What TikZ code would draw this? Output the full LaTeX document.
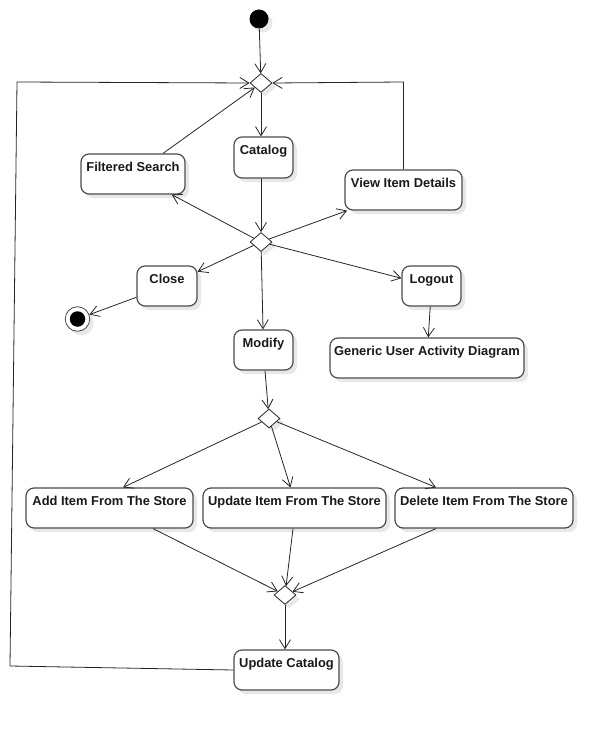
\documentclass[tikz,border=0pt]{standalone}
\usepackage{fontspec}
\setmainfont{Liberation Sans}
\usetikzlibrary{arrows.meta,shapes.geometric,shadows}
\tikzset{
  shad/.style={drop shadow={shadow xshift=4pt,shadow yshift=-4pt,fill=black!9,opacity=1}},
  actbox/.style={draw=black!70,line width=1.2pt,rounded corners=8pt,fill=white,shad,inner sep=0pt},
  dec/.style={diamond,draw=black!85,line width=0.8pt,fill=white,minimum width=22pt,minimum height=19pt,inner sep=0pt,shad},
  lbl/.style={anchor=base,inner sep=0pt,font=\fontsize{12.9}{14}\selectfont\bfseries,text=black!90},
  flow/.style={draw=black!85,line width=0.8pt,-{Straight Barb[length=9pt,width=11pt,line width=0.8pt]}},
  plain/.style={draw=black!85,line width=0.8pt}
}
\begin{document}
\begin{tikzpicture}[x=1pt,y=-1pt]
\useasboundingbox (0,0) rectangle (613,730);
% start / end
\node[circle,fill=black,minimum size=19pt,inner sep=0pt,shad] (start) at (259,19) {};
\node[circle,draw=black!70,line width=0.8pt,fill=white,minimum size=24.5pt,inner sep=0pt,shad] (final) at (77.5,319) {};
\node[circle,fill=black,minimum size=15.5pt,inner sep=0pt] (finaldot) at (final) {};
% decisions
\node[dec] (d1) at (261,83) {};
\node[dec] (d2) at (261,242) {};
\node[dec] (d3) at (269,418.5) {};
\node[dec] (d4) at (285,595) {};
% activities
\node[actbox,minimum width=59pt,minimum height=41pt] (catalog) at (263.5,157.5) {};
\node[actbox,minimum width=104pt,minimum height=40pt] (fs) at (133,174) {};
\node[actbox,minimum width=117pt,minimum height=40pt] (vid) at (403.5,190) {};
\node[actbox,minimum width=60pt,minimum height=40pt] (close) at (167,286) {};
\node[actbox,minimum width=59pt,minimum height=40pt] (logout) at (431.5,286) {};
\node[actbox,minimum width=59pt,minimum height=40pt] (modify) at (263.5,350) {};
\node[actbox,minimum width=194pt,minimum height=40pt] (generic) at (427,358) {};
\node[actbox,minimum width=167pt,minimum height=40pt] (add) at (109.5,508) {};
\node[actbox,minimum width=183pt,minimum height=40pt] (upd) at (294.5,508) {};
\node[actbox,minimum width=178pt,minimum height=40pt] (del) at (484,508) {};
\node[actbox,minimum width=105pt,minimum height=40pt] (uc) at (286.5,670) {};
% labels
\node[lbl] (catalog-t) at ([yshift=-18.5pt]catalog.north) {Catalog};
\node[lbl] (fs-t) at ([yshift=-18.5pt]fs.north) {Filtered Search};
\node[lbl] (vid-t) at ([yshift=-18.5pt]vid.north) {View Item Details};
\node[lbl] (close-t) at ([yshift=-18.5pt]close.north) {Close};
\node[lbl] (logout-t) at ([yshift=-18.5pt]logout.north) {Logout};
\node[lbl] (modify-t) at ([yshift=-18.5pt]modify.north) {Modify};
\node[lbl] (generic-t) at ([yshift=-18.5pt]generic.north) {Generic User Activity Diagram};
\node[lbl] (add-t) at ([yshift=-18.5pt]add.north) {Add Item From The Store};
\node[lbl] (upd-t) at ([yshift=-18.5pt]upd.north) {Update Item From The Store};
\node[lbl] (del-t) at ([yshift=-18.5pt]del.north) {Delete Item From The Store};
\node[lbl] (uc-t) at ([yshift=-18.5pt]uc.north) {Update Catalog};
% loop corners
\coordinate (lb) at (10,666);
\coordinate (lt) at (17,82);
\coordinate (rt) at (403.5,82);
% connectors
\draw[flow] (start) -- (d1);
\draw[flow] (d1.south) -- (d1.south |- catalog.north);
\draw[flow] (d2 |- catalog.south) -- (d2.north);
\draw[flow] ([xshift=30pt]fs.north) -- (d1);
\draw[flow] (vid.north) -- (rt) -- (d1.east);
\draw[flow] (uc.west) -- (lb) -- (lt) -- (d1.west);
\draw[flow] (d2) -- (fs);
\draw[flow] (d2) -- (vid);
\draw[flow] (d2) -- (close);
\draw[flow] (d2) -- (logout);
\draw[flow] (d2) -- (modify);
\draw[flow] (close) -- (final);
\draw[flow] (logout) -- (generic);
\draw[flow] ([xshift=1.5pt]modify.south) -- (d3);
\draw[flow] (d3) -- ([xshift=13.5pt]add.north);
\draw[flow] (d3) -- ([xshift=-4pt]upd.north);
\draw[flow] (d3) -- ([xshift=-48pt]del.north);
\draw[flow] ([xshift=43.5pt]add.south) -- (d4);
\draw[flow] ([xshift=-1.5pt]upd.south) -- (d4);
\draw[flow] ([xshift=-48pt]del.south) -- (d4);
\draw[flow] (d4) -- (d4 |- uc.north);
\end{tikzpicture}
\end{document}
